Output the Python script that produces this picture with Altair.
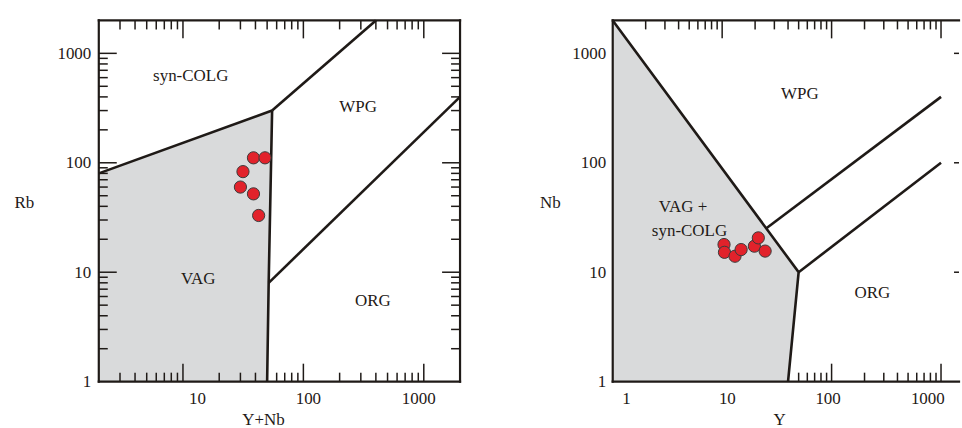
import altair as alt
import pandas as pd

FONT = "Liberation Serif"
INK = "#1f1a17"
GRAY = "#d9dadb"
RED = "#e2222b"
EDGE = "#3b3b3b"
FS = 17

# ---------------- left panel: Rb vs Y+Nb ----------------
L_xdom = [2, 2000]
L_ydom = [1, 2000]
L_x_labels = [10, 100, 1000]
L_y_labels = [1, 10, 100, 1000]
L_x_major = [10, 100, 1000]
L_x_minor = [3, 4, 5, 6, 7, 8, 9, 20, 30, 40, 50, 60, 70, 80, 90,
             200, 300, 400, 500, 600, 700, 800, 900]
L_y_major = [10, 100, 1000]
L_y_minor = [2, 3, 4, 5, 6, 7, 8, 9, 20, 30, 40, 50, 60, 70, 80, 90,
             200, 300, 400, 500, 600, 700, 800, 900]
L_pt_x = [38.5, 48, 31.5, 30, 38.5, 42.5]
L_pt_y = [111, 111, 83, 60, 52, 33]
L_poly_x = [2, 2, 55, 51.5, 50]
L_poly_y = [1, 80, 300, 8, 1]
L_line_id = ["a", "a", "b", "b", "b", "c", "c", "d", "d"]
L_line_x = [2, 55, 55, 51.5, 50, 55, 400, 51.5, 2000]
L_line_y = [80, 300, 300, 8, 1, 300, 2000, 8, 400]
L_text = ["syn-COLG", "WPG", "VAG", "ORG"]
L_text_x = [11.6, 285, 13.4, 378]
L_text_y = [627, 322, 8.6, 5.45]

# ---------------- right panel: Nb vs Y ----------------
R_xdom = [1, 1460]
R_ydom = [1, 2000]
R_x_labels = [1, 10, 100, 1000]
R_y_labels = [1, 10, 100, 1000]
R_x_major = [10, 100, 1000]
R_x_minor = [2, 3, 4, 5, 6, 7, 8, 9, 20, 30, 40, 50, 60, 70, 80, 90,
             200, 300, 400, 500, 600, 700, 800, 900]
R_y_major_right = [10, 100, 1000]
R_pt_x = [10.4, 10.5, 13.1, 14.9, 19.7, 21.4, 24.7]
R_pt_y = [17.9, 15.2, 14.0, 16.1, 17.3, 20.6, 15.6]
R_poly_x = [1, 1, 50, 40]
R_poly_y = [1, 2000, 10, 1]
R_line_id = ["a", "a", "a", "b", "b", "c", "c"]
R_line_x = [1, 50, 40, 25, 1000, 50, 1000]
R_line_y = [2000, 10, 1, 25, 400, 10, 100]
R_text = ["WPG", "VAG +", "syn-COLG", "ORG"]
R_text_x = [51.4, 4.39, 5.03, 236]
R_text_y = [425, 39.1, 23.9, 6.4]

W_L, H = 362, 362
W_R = 347
MAJ, MIN = 18, 9


def x_axis(values, title, title_x, offset_expr):
    return alt.Axis(values=values, format="d", title=title, grid=False,
                    domain=False, ticks=False, tickSize=0,
                    labelFont=FONT, labelFontSize=FS, labelColor=INK,
                    labelPadding=9, labelFlush=False, labelOverlap=False,
                    labelOffset=alt.ExprRef(expr=offset_expr),
                    titleFont=FONT, titleFontSize=FS, titleFontWeight="normal",
                    titleColor=INK, titleX=title_x, titleY=43,
                    titleAlign="center", titleBaseline="alphabetic")


def y_axis(values, title, title_x, pad):
    return alt.Axis(values=values, format="d", title=title, grid=False,
                    domain=False, ticks=False, tickSize=0,
                    labelFont=FONT, labelFontSize=FS, labelColor=INK,
                    labelPadding=pad, labelFlush=False, labelOverlap=False,
                    titleFont=FONT, titleFontSize=FS, titleFontWeight="normal",
                    titleColor=INK, titleAngle=0, titleX=title_x, titleY=182,
                    titleAlign="center", titleBaseline="middle")


def panel(xdom, ydom, W, xax, yax, poly_x, poly_y, line_id, line_x, line_y,
          pt_x, pt_y, txt, txt_x, txt_y, x_major, x_minor, y_major, y_minor,
          right_major, full_frame, ticks_on_top, left_ticks):
    xs = alt.Scale(type="log", domain=xdom, nice=False)
    ys = alt.Scale(type="log", domain=ydom, nice=False)

    def X():
        return alt.X("x:Q", scale=xs, axis=xax)

    def Y():
        return alt.Y("y:Q", scale=ys, axis=yax)

    poly = alt.Chart(pd.DataFrame({"x": poly_x, "y": poly_y,
                                   "i": list(range(len(poly_x)))})).mark_line(
        fill=GRAY, stroke=GRAY, strokeWidth=0.5
    ).encode(x=X(), y=Y(), order=alt.Order("i:Q"))

    fx = [xdom[0], xdom[0], xdom[0]]
    fx2 = [xdom[1], xdom[1], xdom[0]]
    fy = [ydom[0], ydom[1], ydom[0]]
    fy2 = [ydom[0], ydom[1], ydom[1]]
    if full_frame:
        fx.append(xdom[1]); fx2.append(xdom[1]); fy.append(ydom[0]); fy2.append(ydom[1])
    frame = alt.Chart(pd.DataFrame({"x": fx, "x2": fx2, "y": fy, "y2": fy2})).mark_rule(
        color=INK, strokeWidth=2.2, strokeCap="square"
    ).encode(x=X(), x2="x2:Q", y=Y(), y2="y2:Q")

    ticks = []
    for vals, L in ((x_major, MAJ), (x_minor, MIN)):
        d = pd.DataFrame({"x": vals})
        ticks.append(alt.Chart(d).mark_rule(color=INK, strokeWidth=1.5).encode(
            x=X(), y=alt.value(H), y2=alt.value(H - L)))
        ticks.append(alt.Chart(d).mark_rule(color=INK, strokeWidth=1.5).encode(
            x=X(), y=alt.value(0), y2=alt.value(L)))
    if left_ticks:
        for vals, L in ((y_major, MAJ), (y_minor, MIN)):
            d = pd.DataFrame({"y": vals})
            ticks.append(alt.Chart(d).mark_rule(color=INK, strokeWidth=1.5).encode(
                y=Y(), x=alt.value(0), x2=alt.value(L)))
            ticks.append(alt.Chart(d).mark_rule(color=INK, strokeWidth=1.5).encode(
                y=Y(), x=alt.value(W), x2=alt.value(W - L)))
    if right_major:
        d = pd.DataFrame({"y": right_major})
        ticks.append(alt.Chart(d).mark_rule(color=INK, strokeWidth=1.5).encode(
            y=Y(), x=alt.value(W - 5), x2=alt.value(W)))

    lines = alt.Chart(pd.DataFrame({"x": line_x, "y": line_y, "seg": line_id,
                                    "i": list(range(len(line_x)))})).mark_line(
        color=INK, strokeWidth=2.6, strokeJoin="miter"
    ).encode(x=X(), y=Y(), detail="seg:N", order=alt.Order("i:Q"))

    pts = alt.Chart(pd.DataFrame({"x": pt_x, "y": pt_y})).mark_circle(
        size=150, color=RED, opacity=1, stroke=EDGE, strokeWidth=1
    ).encode(x=X(), y=Y())

    labels = alt.Chart(pd.DataFrame({"x": txt_x, "y": txt_y, "t": txt})).mark_text(
        font=FONT, fontSize=FS, color=INK, align="center", baseline="middle"
    ).encode(x=X(), y=Y(), text="t:N")

    if ticks_on_top:
        layers = [poly] + ticks + [frame, lines, pts, labels]
    else:
        layers = ticks + [poly, frame, lines, pts, labels]
    return alt.layer(*layers).properties(width=W, height=H)


left = panel(
    L_xdom, L_ydom, W_L,
    x_axis(L_x_labels, "Y+Nb", 164.5,
           "datum.value == 10 ? 14 : datum.value == 100 ? 4.5 : -5.5"),
    y_axis(L_y_labels, "Rb", -75, 8),
    L_poly_x, L_poly_y, L_line_id, L_line_x, L_line_y,
    L_pt_x, L_pt_y, L_text, L_text_x, L_text_y,
    L_x_major, L_x_minor, L_y_major, L_y_minor,
    None, True, True, True)

right = panel(
    R_xdom, R_ydom, W_R,
    x_axis(R_x_labels, "Y", 166.7,
           "datum.value == 1 ? 13.4 : datum.value == 10 ? 4.7 : datum.value == 100 ? -4 : -13.7"),
    y_axis(R_y_labels, "Nb", -63, 7),
    R_poly_x, R_poly_y, R_line_id, R_line_x, R_line_y,
    R_pt_x, R_pt_y, R_text, R_text_x, R_text_y,
    R_x_major, R_x_minor, [], [],
    R_y_major_right, False, False, False)

chart = alt.hconcat(left, right, spacing=153, bounds="flush").properties(
    padding={"left": 13, "top": 14, "right": 0, "bottom": 0},
    background="white",
).configure_view(stroke="transparent")

chart.save("out.html", embed_options={"renderer": "svg", "actions": False})
